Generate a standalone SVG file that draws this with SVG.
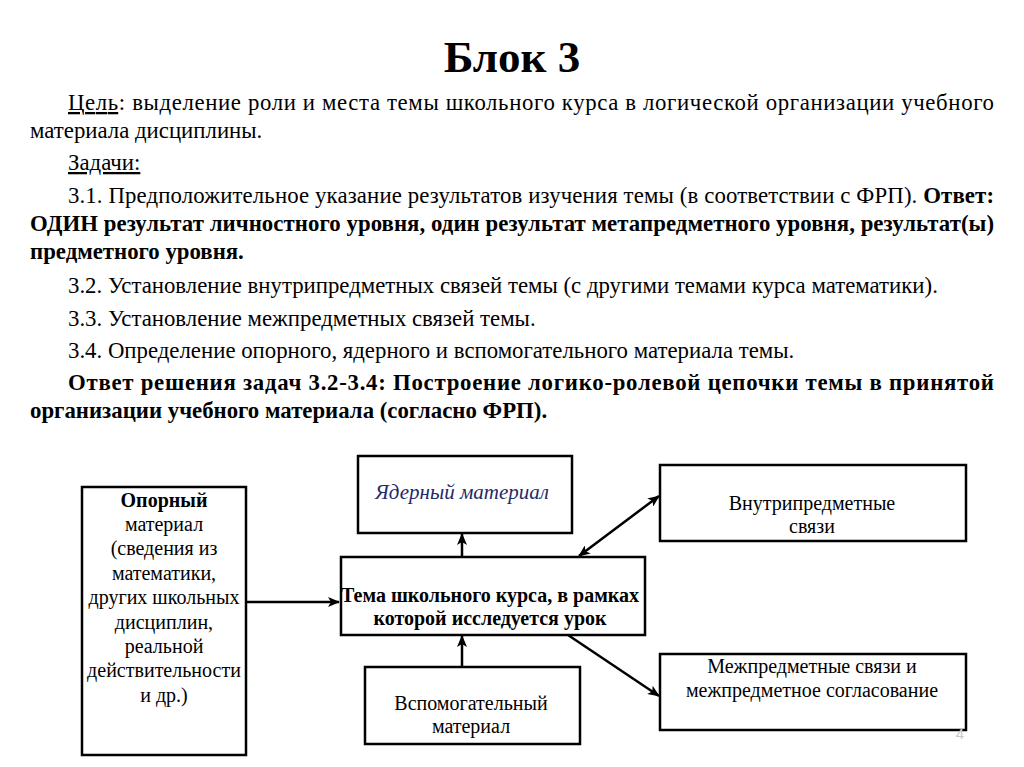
<svg xmlns="http://www.w3.org/2000/svg" width="1024" height="767" viewBox="0 0 1024 767">
<style>
.t{font-family:"Liberation Serif","Times New Roman",serif;fill:#000}
.body{font-size:22.8px}
.b{font-weight:bold}
.d{font-size:20px;text-anchor:middle}
.box{fill:#fff;stroke:#000;stroke-width:2.5}
.con{stroke:#000;stroke-width:2.5;fill:none}
</style>
<defs>
<marker id="ah" viewBox="0 0 12 10" refX="11" refY="5" markerWidth="12" markerHeight="10" markerUnits="userSpaceOnUse" orient="auto-start-reverse">
<path d="M0,0 L12,5 L0,10 L3,5 Z" fill="#000"/>
</marker>
</defs>
<rect width="1024" height="767" fill="#fff"/>
<g id="header">
<text class="t b" x="512" y="72" font-size="45" text-anchor="middle">Блок 3</text>
<text class="t body" x="68" y="110" textLength="926" lengthAdjust="spacing"><tspan text-decoration="underline">Цель</tspan>: выделение роли и места темы школьного курса в логической организации учебного</text>
<text class="t body" x="30" y="138">материала дисциплины.</text>
<text class="t body" x="68" y="170"><tspan text-decoration="underline">Задачи:</tspan></text>
<text class="t body" x="68" y="203" textLength="926" lengthAdjust="spacing">3.1. Предположительное указание результатов изучения темы (в соответствии с ФРП). <tspan class="b">Ответ:</tspan></text>
<text class="t body b" x="30" y="231" textLength="964" lengthAdjust="spacing">ОДИН результат личностного уровня, один результат метапредметного уровня, результат(ы)</text>
<text class="t body b" x="30" y="259">предметного уровня.</text>
<text class="t body" x="68" y="293">3.2. Установление внутрипредметных связей темы (с другими темами курса математики).</text>
<text class="t body" x="68" y="326">3.3. Установление межпредметных связей темы.</text>
<text class="t body" x="68" y="358">3.4. Определение опорного, ядерного и вспомогательного материала темы.</text>
<text class="t body b" x="68" y="390" textLength="926" lengthAdjust="spacing">Ответ решения задач 3.2-3.4: Построение логико-ролевой цепочки темы в принятой</text>
<text class="t body b" x="30" y="418">организации учебного материала (согласно ФРП).</text>
</g>
<g id="connectors">
<line class="con" x1="246" y1="602" x2="339" y2="602" marker-end="url(#ah)"/>
<line class="con" x1="462" y1="557" x2="462" y2="534" marker-end="url(#ah)"/>
<line class="con" x1="462" y1="667" x2="462" y2="636" marker-end="url(#ah)"/>
<line class="con" x1="579" y1="556" x2="659" y2="496" marker-start="url(#ah)" marker-end="url(#ah)"/>
<line class="con" x1="568" y1="635" x2="659" y2="696" marker-end="url(#ah)"/>
</g>
<g id="opornyi">
<rect class="box" x="82" y="487" width="164" height="268"/>
<text class="t d" x="164"><tspan class="b" x="164" y="507">Опорный</tspan><tspan x="164" y="531">материал</tspan><tspan x="164" y="555">(сведения из</tspan><tspan x="164" y="580">математики,</tspan><tspan x="164" y="604">других школьных</tspan><tspan x="164" y="629">дисциплин,</tspan><tspan x="164" y="653">реальной</tspan><tspan x="164" y="677">действительности</tspan><tspan x="164" y="702">и др.)</tspan></text>
</g>
<g id="yadernyi">
<rect class="box" x="358" y="456" width="214" height="77"/>
<text class="t d" x="462" y="499" font-style="italic" font-size="21" style="fill:#1f2a66;font-size:21px">Ядерный материал</text>
</g>
<g id="tema">
<rect class="box" x="341" y="557" width="304" height="78"/>
<text class="t d b"><tspan x="490" y="602">Тема школьного курса, в рамках</tspan><tspan x="490" y="625">которой исследуется урок</tspan></text>
</g>
<g id="vspomogatelnyi">
<rect class="box" x="365" y="667" width="215" height="77"/>
<text class="t d"><tspan x="471" y="710">Вспомогательный</tspan><tspan x="471" y="733">материал</tspan></text>
</g>
<g id="vnutripredmetnye">
<rect class="box" x="660" y="465" width="306" height="76"/>
<text class="t d"><tspan x="812" y="510">Внутрипредметные</tspan><tspan x="812" y="533">связи</tspan></text>
</g>
<g id="mezhpredmetnye">
<rect class="box" x="660" y="654" width="306" height="76"/>
<text class="t d"><tspan x="812" y="673">Межпредметные связи и</tspan><tspan x="812" y="697">межпредметное согласование</tspan></text>
</g>
<text x="960" y="739" font-family="Liberation Sans, Arial, sans-serif" font-size="15" fill="#c8c8c8" text-anchor="middle">4</text>
</svg>
